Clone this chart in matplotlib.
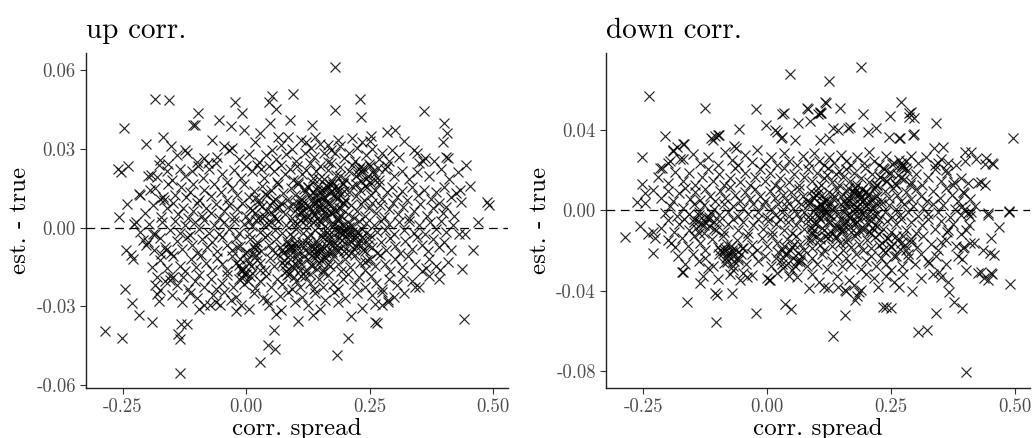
import matplotlib
matplotlib.use("Agg")
import matplotlib.pyplot as plt
import numpy as np

plt.rcParams["font.family"] = "serif"
plt.rcParams["font.serif"] = ["cmr10"]
plt.rcParams["axes.unicode_minus"] = False

# values: (corr. spread, est. - true)
up_outer = [(.179,.0613),(.095,.0507),(-.185,.049),(-.157,.0486),(.051,.050),(.046,.048),(-.024,.048),(.061,.045),(.230,.049),(.179,.0447),(.359,.0444),(-.098,.0437),(-.009,.0437),(.233,.042),(-.056,.041),(-.248,.038),(-.109,.039),(-.105,.0392),(-.032,.0386),(.047,.040),(.089,.041),(.132,.039),(.40,.040),(.407,.036),(.399,.0327),(.302,.037),(.284,.0365),(.253,.035),(.25,.033),(-.004,.037),(.027,.036),(-.203,.032),(-.169,.0346),(-.152,.031),(-.26,.0225),(-.254,.021),(-.239,.0235),(-.241,.009),(-.218,.0127),(-.258,.004),(-.228,.0013),(.445,.0238),(.453,.016),(.488,.0098),(.491,.0085),(.434,.0098),(.424,.013),(.47,.002),(.459,-.0086),(.443,-.0023),(.436,-.0156),(.441,-.0347),(.409,-.0131),(.392,-.0163),(.363,-.0153),(.341,-.0226),(.287,-.0275),(.264,-.0364),(.26,-.036),(.205,-.042),(.184,-.0487),(.186,-.0283),(.213,-.0337),(.135,-.0334),(.105,-.0356),(.027,-.0512),(.043,-.0446),(.059,-.0464),(.056,-.039),(.061,-.033),(.071,-.0315),(.005,-.031),(-.022,-.0318),(-.134,-.0553),(-.139,-.0404),(-.134,-.0426),(-.133,-.0366),(-.12,-.0366),(-.287,-.0395),(-.252,-.042),(-.218,-.0334),(-.191,-.036),(-.231,-.0286),(-.245,-.0235),(-.177,-.0281),(-.181,-.0252),(-.095,-.0309),(-.074,-.0296),(-.054,-.0296),(-.032,-.0275),(.034,-.027),(.041,-.0277),(.149,-.031),(.274,-.0296),(.287,-.0283),
            (-.223,.002),(-.203,-.0067),(-.209,-.0048),(-.243,-.0086),(-.233,-.0106),(-.23,-.0118),(-.186,.0149),(-.182,.0193),(-.193,.02),(-.176,.0257),(-.159,.0244),(-.169,.0117),(-.166,.0104),(-.189,-.0023),(-.191,-.015),(-.182,-.0188),(-.172,-.0099),(-.162,-.0086),(-.155,-.02),(-.149,-.0188),(-.186,-.022),(-.176,-.0239)]
up_core = [(-.14,.0275),(-.125,.0295),(-.12,.0285),(-.085,.0265),(-.078,.0245),(-.06,.027),(-.045,.031),(-.035,.0295),(-.03,.0305),(-.015,.026),(.005,.028),(.018,.0325),(.025,.025),(.04,.0275),(.052,.0295),(.06,.026),(.07,.0315),(.08,.028),(.092,.030),(.10,.0255),(.11,.0335),(.118,.0285),(.13,.0305),(.138,.027),(.15,.032),(.158,.0285),(.165,.025),(.172,.0295),(.18,.0285),(.19,.031),(.198,.0265),(.208,.0285),(.22,.0255),(.235,.0325),(.242,.0275),(.255,.030),(.268,.026),(.275,.0285),(.29,.0255),(.295,.0295),(.31,.027),(.32,.033),(.34,.0295),(.345,.0285),(.358,.0255),(.362,.0265),(.405,.027),(.408,.0265),(.38,.0255),(.215,.034),(.12,.0325),(.065,.0345),(.085,.0345),(-.07,.0335),(-.1,.025),(.14,.0345),(.165,.0315),(.185,.0335),(.225,.0305),
           (-.2,.0195),(-.178,.024),(-.16,.0215),(-.15,.018),(-.135,.0225),(-.125,.0195),(-.11,.0215),(-.098,.0235),(-.088,.019),(-.075,.0225),(-.062,.0245),(-.05,.0205),(-.04,.0175),(-.025,.022),(-.01,.019),(.0,.0235),(.012,.0215),(.022,.024),(.03,.0225),(.035,.019),(.045,.0235),(.055,.0215),(.062,.0175),(.07,.024),(.078,.0205),(.088,.0225),(.095,.018),(.102,.0235),(.112,.0205),(.12,.022),(.128,.0245),(.135,.019),(.142,.0215),(.15,.0235),(.158,.0185),(.165,.022),(.172,.0245),(.182,.02),(.19,.023),(.2,.0185),(.208,.0215),(.215,.024),(.222,.0195),(.228,.0225),(.235,.021),(.242,.0185),(.25,.0235),(.258,.0205),(.268,.018),(.28,.0225),(.285,.0235),(.3,.0195),(.315,.0215),(.33,.0185),(.345,.021),(.35,.0245),(.37,.0195),(.395,.0225),(.41,.0185),(.428,.021),
           (-.215,.0125),(-.195,.0145),(-.175,.011),(-.158,.0165),(-.145,.0125),(-.132,.0155),(-.122,.0115),(-.115,.0135),(-.108,.0165),(-.095,.0105),(-.085,.0145),(-.072,.012),(-.065,.0165),(-.052,.0135),(-.04,.0105),(-.03,.015),(-.018,.0125),(-.005,.0165),(.005,.0115),(.015,.014),(.025,.0105),(.032,.016),(.042,.0125),(.05,.0145),(.058,.011),(.065,.0165),(.075,.013),(.082,.0105),(.09,.015),(.098,.0125),(.105,.0165),(.11,.011),(.118,.0135),(.125,.0155),(.132,.0105),(.14,.0125),(.145,.016),(.152,.0135),(.158,.0115),(.165,.0155),(.17,.013),(.175,.0165),(.182,.0115),(.188,.014),(.195,.0165),(.2,.0105),(.208,.0135),(.215,.016),(.222,.012),(.23,.0145),(.238,.0105),(.245,.0155),(.252,.0125),(.26,.0145),(.268,.0165),(.275,.011),(.285,.0135),(.295,.0155),(.305,.0115),(.315,.014),(.325,.0105),(.335,.0155),(.348,.0125),(.36,.0145),(.375,.011),(.385,.0135),(.4,.0155),(.415,.0115),(.432,.0145),(.16,.0145),(.178,.0152),(.19,.0125),(.135,.0135),
           (-.205,.0055),(-.19,.0085),(-.172,.004),(-.16,.0075),(-.148,.0095),(-.138,.005),(-.128,.0075),(-.118,.0035),(-.108,.0065),(-.1,.0095),(-.09,.0045),(-.082,.0075),(-.072,.0055),(-.062,.009),(-.055,.0035),(-.045,.0065),(-.035,.0085),(-.025,.004),(-.018,.007),(-.008,.0095),(.0,.0045),(.008,.0075),(.018,.0055),(.025,.009),(.032,.0035),(.04,.0065),(.048,.0085),(.055,.0045),(.062,.0075),(.07,.0095),(.078,.005),(.085,.008),(.092,.0035),(.098,.0065),(.105,.0095),(.11,.0055),(.115,.0085),(.122,.004),(.128,.007),(.135,.0095),(.14,.005),(.148,.008),(.155,.0035),(.16,.0065),(.165,.0095),(.172,.0055),(.178,.008),(.185,.004),(.192,.0075),(.198,.0095),(.205,.005),(.212,.0085),(.218,.0035),(.225,.0065),(.232,.009),(.24,.0045),(.248,.0075),(.255,.0095),(.262,.0055),(.27,.0085),(.278,.004),(.288,.007),(.298,.0095),(.308,.005),(.318,.008),(.33,.0035),(.34,.0065),(.352,.009),(.365,.0045),(.378,.0075),(.39,.0095),(.398,.0055),(.405,.008),(.42,.0045),(.105,.0078),(.115,.0068),(.145,.0102),(.152,.0095),(.095,.0088),
           (-.215,-.0015),(-.198,.0015),(-.185,-.0025),(-.17,.002),(-.155,-.001),(-.145,.0025),(-.135,-.002),(-.125,.001),(-.115,-.0028),(-.105,.002),(-.095,-.0005),(-.085,.0028),(-.075,-.002),(-.065,.001),(-.055,-.0025),(-.045,.002),(-.035,-.0005),(-.025,.0025),(-.015,-.002),(-.005,.0015),(.005,-.0025),(.012,.0005),(.02,.0028),(.028,-.0015),(.035,.001),(.042,-.0028),(.05,.002),(.058,-.0008),(.065,.0025),(.072,-.002),(.08,.001),(.088,-.0025),(.095,.0018),(.1,-.0005),(.108,.0028),(.115,-.002),(.12,.0008),(.128,-.0025),(.135,.002),(.14,-.001),(.148,.0025),(.155,-.0018),(.16,.0005),(.168,-.0028),(.172,.0015),(.178,-.0005),(.185,.0025),(.19,-.002),(.195,.0008),(.2,-.0012),(.205,.002),(.21,-.0025),(.215,.0005),(.222,-.0015),(.228,.0025),(.235,-.0005),(.242,.0018),(.25,-.0028),(.258,.001),(.265,-.0018),(.272,.0025),(.28,-.0008),(.29,.0015),(.3,-.0025),(.31,.002),(.32,-.001),(.33,.0025),(.34,-.002),(.35,.001),(.362,-.0025),(.372,.002),(.385,-.0005),(.395,.0025),(.405,-.0018),(.418,.001),(.43,-.0025),(.202,-.0002),(.188,.0002),(.196,-.0008),(.208,.0004),
           (-.2,-.0055),(-.188,-.0085),(-.175,-.004),(-.165,-.0075),(-.152,-.0095),(-.14,-.005),(-.13,-.008),(-.12,-.0035),(-.11,-.0065),(-.1,-.0095),(-.09,-.0045),(-.08,-.0075),(-.07,-.0055),(-.06,-.009),(-.05,-.0035),(-.04,-.0065),(-.03,-.0085),(-.02,-.004),(-.012,-.007),(-.002,-.0095),(.008,-.0045),(.015,-.0075),(.022,-.0055),(.03,-.009),(.038,-.0035),(.045,-.0065),(.052,-.0085),(.06,-.0045),(.068,-.0075),(.075,-.0095),(.082,-.005),(.088,-.008),(.095,-.0035),(.1,-.0065),(.105,-.0095),(.112,-.0055),(.118,-.0085),(.125,-.004),(.13,-.007),(.138,-.0095),(.142,-.005),(.15,-.008),(.155,-.0035),(.162,-.0065),(.168,-.0095),(.175,-.0055),(.182,-.0085),(.188,-.004),(.195,-.007),(.202,-.0095),(.21,-.005),(.218,-.008),(.225,-.0035),(.232,-.0065),(.24,-.009),(.248,-.0045),(.255,-.0075),(.265,-.0095),(.272,-.0055),(.282,-.0085),(.292,-.004),(.302,-.007),(.312,-.0095),(.322,-.005),(.335,-.008),(.345,-.0035),(.355,-.0065),(.368,-.009),(.378,-.0045),(.39,-.0075),(.4,-.0055),(.415,-.0085),(.09,-.0072),(.085,-.0082),(.145,-.0068),(.14,-.0078),(.02,-.0065),
           (-.175,-.0125),(-.16,-.0155),(-.148,-.011),(-.135,-.0145),(-.125,-.0165),(-.112,-.012),(-.102,-.015),(-.092,-.0105),(-.082,-.0135),(-.07,-.016),(-.06,-.0115),(-.05,-.014),(-.04,-.0165),(-.03,-.011),(-.02,-.0135),(-.01,-.0158),(-.005,-.0175),(.002,-.012),(.01,-.0148),(.02,-.0105),(.028,-.0135),(.038,-.0162),(.048,-.0115),(.055,-.0145),(.065,-.0105),(.072,-.0135),(.08,-.0165),(.088,-.012),(.095,-.015),(.102,-.0108),(.11,-.0138),(.118,-.0165),(.125,-.0118),(.132,-.0148),(.14,-.0105),(.148,-.0135),(.155,-.0162),(.162,-.0115),(.17,-.0145),(.178,-.0108),(.185,-.0138),(.192,-.0165),(.2,-.012),(.21,-.015),(.22,-.0105),(.23,-.0135),(.24,-.0162),(.25,-.0118),(.26,-.0148),(.27,-.0105),(.28,-.0138),(.292,-.0165),(.302,-.012),(.315,-.015),(.328,-.0108),(.342,-.0138),(.355,-.0165),(.37,-.0118),(.385,-.0148),(.245,-.0125),(.24,-.0132),(-.008,-.0165),(.0,-.0178),
           (-.165,-.0205),(-.155,-.0185),(-.14,-.022),(-.128,-.019),(-.118,-.0235),(-.105,-.0205),(-.095,-.018),(-.085,-.0225),(-.072,-.0195),(-.062,-.0235),(-.05,-.021),(-.04,-.018),(-.028,-.0225),(-.015,-.0195),(-.005,-.0215),(.008,-.0185),(.018,-.023),(.028,-.0205),(.04,-.0185),(.05,-.0225),(.062,-.0195),(.072,-.0215),(.082,-.018),(.092,-.0235),(.1,-.0205),(.108,-.0225),(.118,-.0185),(.128,-.021),(.138,-.0235),(.148,-.0195),(.155,-.0225),(.165,-.018),(.175,-.0215),(.185,-.0235),(.195,-.0195),(.205,-.0175),(.218,-.0215),(.228,-.019),(.24,-.0225),(.252,-.0185),(.262,-.021),(.275,-.0235),(.29,-.0195),(.305,-.022),(.318,-.0185),(.335,-.0205),(.35,-.0225),(.37,-.0185),(.39,-.0195),
           (-.15,-.0255),(-.13,-.0285),(-.115,-.025),(-.1,-.027),(-.085,-.0295),(-.068,-.0255),(-.062,-.0285),(-.045,-.0245),(-.02,-.0265),(-.01,-.0295),(.015,-.025),(.045,-.0295),(.068,-.026),(.085,-.0245),(.098,-.0285),(.112,-.0265),(.125,-.0295),(.14,-.025),(.16,-.0275),(.178,-.0245),(.2,-.027),(.225,-.025),(.255,-.0255),(.275,-.0245),(.3,-.0265),(.32,-.025),(.26,-.029),(.235,-.0305)]
up_dense = [(.102,.0012),(.108,.0058),(.113,.0105),(.117,.0148),(.121,.0032),(.126,.0082),(.129,.0125),(.133,.0172),(.137,.0048),(.141,.0098),(.144,.0142),(.147,.0185),(.151,.0022),(.154,.0072),(.157,.0118),(.161,.0162),(.164,.0038),(.167,.0088),(.171,.0135),(.174,.0178),(.177,.0015),(.18,.0062),(.183,.0108),(.186,.0152),(.189,.0195),(.192,.0045),(.195,.0092),(.198,.0138),(.104,.0172),(.111,.0088),(.124,.0155),(.139,.0025),(.149,.0118),(.159,.0052),(.169,.0165),(.179,.0128),(.188,.0075),(.196,.0168),(.115,.0038),(.132,.0065),(.162,.0098),(.172,.0058),(.185,.0032),(.143,.0068),(.153,.0145),
            (.152,-.0032),(.158,-.0078),(.163,-.0015),(.168,-.0058),(.173,-.0092),(.178,-.0028),(.183,-.0068),(.188,-.0012),(.193,-.0048),(.198,-.0088),(.203,-.0025),(.208,-.0062),(.213,-.0098),(.218,-.0035),(.222,-.0072),(.227,-.0018),(.232,-.0052),(.237,-.0085),(.242,-.0022),(.247,-.0065),(.165,-.0045),(.185,-.0085),(.205,-.0042),(.225,-.0058),(.195,-.0022),(.215,-.0015),(.175,-.0065),(.235,-.0035),
            (.072,-.0085),(.076,-.0125),(.081,-.0165),(.085,-.0062),(.089,-.0105),(.093,-.0148),(.097,-.0188),(.101,-.0078),(.105,-.0122),(.109,-.0162),(.113,-.0068),(.117,-.0108),(.078,-.0142),(.092,-.0082),(.103,-.0142),(.087,-.0178),(.098,-.0058),(.111,-.0185),
            (-.018,-.0075),(-.012,-.0118),(-.006,-.0158),(.001,-.0092),(.006,-.0135),(.012,-.0172),(.017,-.0082),(.022,-.0125),(.027,-.0162),(-.009,-.0192),(.003,-.0205),(.014,-.0102),(-.015,-.0142),
            (.222,.0165),(.227,.0205),(.232,.0178),(.237,.0228),(.241,.0158),(.246,.0195),(.251,.0172),(.256,.0215),(.261,.0182),(.266,.0228),(.231,.0232),(.248,.0242),
            (.122,-.0058),(.127,-.0098),(.131,-.0142),(.135,-.0072),(.139,-.0115),(.143,-.0158),(.147,-.0082),(.151,-.0125),(.156,-.0168),(.161,-.0095),(.166,-.0138),(.128,-.0175),(.145,-.0102),(.158,-.0112),
            (.005,.0025),(.012,.0068),(.018,.0112),(.024,.0035),(.031,.0082),(.037,.0128),(.043,.0015),(.049,.0058),(.054,.0102),(.06,.0032),(.066,.0078),(.035,.0045)]

down_outer = [(.189,.0715),(.046,.068),(.125,.0644),(-.239,.0571),(-.125,.0513),(-.022,.0505),(.030,.0483),(.033,.0487),(.081,.0513),(.106,.049),(.109,.0485),(.116,.054),(.147,.051),(.193,.0483),(.247,.047),(.27,.054),(.29,.049),(.287,.0466),(.34,.0438),(.495,.0362),(.295,.0377),(.267,.036),(.245,.0367),(.22,.041),(.203,.039),(.167,.0417),(.132,.041),(.063,.0438),(-.003,.0428),(.020,.039),(.030,.0367),(-.056,.0405),(-.098,.0375),(-.114,.036),(-.11,.0353),(-.205,.0372),(-.252,.0267),(-.169,.033),(-.19,.0297),(-.213,.0212),(-.195,.0246),(-.066,.032),(-.063,.031),(-.253,.0134),(-.247,.0085),(-.262,.0043),(-.247,.0035),(-.231,.0101),(-.287,-.0131),(-.257,-.0076),(-.23,-.0214),(-.24,-.0115),(-.231,-.0108),(-.227,-.0138),(-.171,-.0305),(-.161,-.0458),(-.135,-.0363),(-.105,-.0413),(-.102,-.042),(-.103,-.0558),(-.071,-.0413),(-.022,-.051),(.003,-.0347),(.036,-.0466),(.049,-.0493),(.085,-.0385),(.115,-.038),(.122,-.0385),(.132,-.0629),(.157,-.0524),(.159,-.04),(.178,-.0446),(.182,-.0425),(.189,-.0397),(.223,-.038),(.233,-.048),(.239,-.048),(.249,-.0487),(.293,-.04),(.304,-.0607),(.322,-.0596),(.341,-.0513),(.367,-.0408),(.376,-.0458),(.393,-.0488),(.402,-.0808),(.49,-.0367),(.437,-.0339),(.446,-.0347),(.453,-.0317),(.402,-.0297),(.468,-.0083),(.488,-.0003),(.445,-.0023),(.432,.0143),(.439,.0126),(.422,.0256),(.44,.0234),(.456,.0234),(.399,.0292),(.412,.0292),(.118,.0535),(.107,.0488),(.103,.0483),(.083,.0508),(.087,.0448),(.142,.0404),(.164,.0414),(.266,.036),(.296,.038),(.286,.0488),(.296,.046),(.107,.035),(.124,.036),(-.19,.030),(-.182,.0315),(-.168,.033),(-.217,.021),(-.2,.0235),(-.176,.0255),(-.105,.037),(-.1,.0375),(.016,.040),(.028,.036),(.057,.035),(.337,.031),(.355,.0315),(.442,.026),(.454,.0235),(.426,.0135),(.344,.0235),(.361,.020),(.377,.014),(.397,.0086),(.391,.0017),(.411,-.0008),(.446,-.0013),(.487,-.0008),(-.193,-.0163),(-.17,-.0307),(-.12,-.0287),(-.089,-.0213),(-.069,-.0297),(-.049,-.0312),(-.041,-.0331),(.006,-.0347),(.067,-.0247),(.142,-.038),(.158,-.0397),(.266,-.038),(.365,-.0357),(.432,-.0307),(.452,-.0312),(.407,-.0073),(.452,-.0138),(.397,-.0183),(.418,-.0163),(.436,-.0198),(.45,-.0213),(.458,-.0223),(.351,-.0158),(.365,-.0098),(.326,-.0262),(.347,-.0307)]
down_core = [(-.17,.0255),(-.15,.028),(-.135,.0235),(-.12,.0265),(-.1,.0225),(-.085,.029),(-.07,.025),(-.058,.0225),(-.045,.0275),(-.03,.024),(-.02,.03),(-.005,.0235),(.008,.0265),(.02,.0225),(.035,.0285),(.045,.0245),(.06,.0225),(.072,.027),(.085,.0235),(.095,.0285),(.105,.0245),(.115,.0225),(.125,.0265),(.135,.0235),(.148,.0275),(.16,.0245),(.17,.0225),(.182,.0265),(.195,.0235),(.205,.029),(.215,.0245),(.225,.0225),(.24,.027),(.255,.0235),(.265,.025),(.272,.0225),(.28,.0245),(.29,.027),(.305,.0235),(.32,.0265),(.338,.0225),(.35,.0255),(.365,.0235),(.38,.0225),(.4,.0245),(.275,.0215),(.27,.0235),
             (-.22,.0165),(-.2,.0135),(-.185,.019),(-.17,.0145),(-.158,.0185),(-.145,.0125),(-.132,.0165),(-.12,.0205),(-.11,.0145),(-.098,.018),(-.088,.0125),(-.075,.016),(-.065,.021),(-.055,.014),(-.045,.0185),(-.035,.0125),(-.025,.0165),(-.015,.0205),(-.005,.0145),(.005,.0185),(.015,.0125),(.025,.016),(.035,.021),(.045,.014),(.055,.018),(.065,.0125),(.075,.0165),(.082,.0205),(.09,.0145),(.1,.0185),(.108,.0125),(.115,.016),(.122,.021),(.13,.014),(.138,.018),(.145,.0125),(.152,.0165),(.16,.0205),(.168,.0145),(.175,.0185),(.182,.0125),(.19,.016),(.198,.021),(.205,.014),(.212,.018),(.22,.0125),(.228,.0165),(.235,.0205),(.242,.0145),(.25,.0185),(.26,.0125),(.27,.016),(.28,.021),(.29,.014),(.3,.018),(.312,.0125),(.325,.0165),(.338,.0205),(.35,.0145),(.362,.0185),(.375,.0125),(.39,.016),(.405,.0135),(.12,.0175),(.145,.0195),
             (-.215,.006),(-.2,.0095),(-.19,.0045),(-.178,.0085),(-.165,.011),(-.155,.0055),(-.145,.009),(-.135,.005),(-.125,.0105),(-.115,.007),(-.105,.0045),(-.095,.0095),(-.085,.006),(-.075,.0115),(-.065,.0075),(-.055,.0045),(-.045,.009),(-.035,.0055),(-.025,.0105),(-.015,.007),(-.005,.0045),(.005,.0095),(.015,.006),(.025,.011),(.032,.0075),(.04,.0045),(.048,.009),(.056,.0055),(.064,.0105),(.072,.007),(.08,.0045),(.088,.0095),(.095,.006),(.102,.011),(.11,.0075),(.118,.0045),(.125,.009),(.132,.0055),(.14,.0105),(.148,.007),(.155,.0045),(.162,.0095),(.17,.006),(.178,.011),(.185,.0075),(.192,.0045),(.2,.009),(.208,.0055),(.215,.0105),(.222,.007),(.23,.0045),(.238,.0095),(.246,.006),(.254,.011),(.262,.0075),(.27,.0045),(.28,.009),(.29,.0055),(.3,.0105),(.31,.007),(.322,.0045),(.335,.0095),(.348,.006),(.36,.011),(.372,.0075),(.385,.0045),(.395,.009),(.41,.0055),(.185,.0088),(.175,.0092),(.19,.0068),(.098,.0078),
             (-.205,-.0015),(-.195,.002),(-.182,-.003),(-.17,.001),(-.158,-.002),(-.148,.003),(-.138,-.001),(-.128,.0025),(-.118,-.0035),(-.108,.0005),(-.098,-.0025),(-.088,.003),(-.078,-.001),(-.068,.002),(-.058,-.003),(-.048,.001),(-.038,-.002),(-.028,.003),(-.018,-.001),(-.008,.0025),(.0,-.0035),(.008,.0005),(.015,-.0025),(.022,.003),(.03,-.001),(.038,.002),(.045,-.003),(.052,.001),(.06,-.002),(.068,.003),(.075,-.001),(.082,.0025),(.09,-.0035),(.096,.0005),(.102,-.0025),(.108,.003),(.115,-.001),(.122,.002),(.128,-.003),(.135,.001),(.142,-.002),(.148,.003),(.155,-.001),(.162,.0025),(.168,-.0035),(.175,.0005),(.182,-.0025),(.188,.003),(.195,-.001),(.2,.002),(.208,-.003),(.215,.001),(.222,-.002),(.23,.003),(.238,-.001),(.245,.0025),(.252,-.0035),(.26,.0005),(.268,-.0025),(.276,.003),(.285,-.001),(.295,.002),(.305,-.003),(.315,.001),(.325,-.002),(.335,.003),(.345,-.001),(.355,.0025),(.368,-.0035),(.378,.0005),(.39,-.0025),(.4,.0005),(.405,-.0015),(.41,-.003),(.42,.002),(.112,.0012),(.118,-.0008),(.105,.0008),(.182,.0018),(.178,.0008),
             (-.215,-.0085),(-.2,-.005),(-.188,-.0105),(-.178,-.007),(-.168,-.0045),(-.158,-.0095),(-.148,-.006),(-.138,-.011),(-.128,-.0075),(-.118,-.0045),(-.108,-.009),(-.098,-.0055),(-.088,-.0105),(-.078,-.007),(-.068,-.0045),(-.058,-.0095),(-.048,-.006),(-.038,-.011),(-.028,-.0075),(-.018,-.0045),(-.008,-.009),(.002,-.0055),(.01,-.0105),(.018,-.007),(.026,-.0045),(.034,-.0095),(.042,-.006),(.05,-.011),(.058,-.0075),(.066,-.0045),(.074,-.009),(.082,-.0055),(.09,-.0105),(.098,-.007),(.106,-.0045),(.114,-.0095),(.122,-.006),(.13,-.011),(.138,-.0075),(.146,-.0045),(.154,-.009),(.162,-.0055),(.17,-.0105),(.178,-.007),(.186,-.0045),(.194,-.0095),(.202,-.006),(.21,-.011),(.218,-.0075),(.226,-.0045),(.234,-.009),(.242,-.0055),(.25,-.0105),(.26,-.007),(.27,-.0045),(.28,-.0095),(.29,-.006),(.3,-.011),(.312,-.0075),(.325,-.0045),(.338,-.009),(.35,-.0055),(.362,-.0105),(.375,-.007),(.39,-.0115),(.402,-.0095),(.145,-.0085),(.15,-.0095),(.155,-.0072),(.088,-.0088),(.095,-.0098),
             (-.2,-.0145),(-.185,-.018),(-.172,-.0135),(-.16,-.0175),(-.148,-.0125),(-.135,-.016),(-.125,-.0195),(-.112,-.014),(-.1,-.018),(-.09,-.0125),(-.08,-.0165),(-.07,-.0195),(-.06,-.0145),(-.05,-.0185),(-.04,-.013),(-.03,-.017),(-.02,-.0195),(-.01,-.0135),(.0,-.0175),(.01,-.0125),(.02,-.016),(.03,-.0195),(.04,-.014),(.05,-.018),(.058,-.0125),(.066,-.0165),(.074,-.0195),(.082,-.0145),(.09,-.0185),(.098,-.013),(.106,-.017),(.114,-.0195),(.122,-.0135),(.13,-.0175),(.138,-.0125),(.146,-.016),(.154,-.0195),(.162,-.014),(.17,-.018),(.178,-.0125),(.186,-.0165),(.194,-.0195),(.202,-.0145),(.21,-.0185),(.218,-.013),(.226,-.017),(.234,-.0195),(.242,-.0135),(.25,-.0175),(.26,-.0125),(.27,-.016),(.28,-.0195),(.29,-.014),(.302,-.018),(.315,-.0125),(.33,-.0165),(.345,-.0195),(.36,-.0145),(.38,-.0175),(.395,-.0185),(.41,-.016),(-.095,-.0195),(-.085,-.0185),(.16,-.0155),
             (-.18,-.0225),(-.165,-.0265),(-.15,-.0215),(-.138,-.025),(-.125,-.0235),(-.11,-.0275),(-.098,-.0215),(-.088,-.026),(-.078,-.0225),(-.068,-.0275),(-.058,-.0235),(-.042,-.0265),(-.03,-.0215),(-.018,-.025),(-.005,-.0225),(.008,-.0275),(.018,-.0235),(.03,-.0265),(.04,-.0215),(.05,-.0295),(.06,-.025),(.07,-.0225),(.08,-.0275),(.09,-.0235),(.1,-.0265),(.11,-.0215),(.12,-.029),(.13,-.025),(.14,-.0225),(.15,-.0275),(.16,-.0235),(.17,-.0265),(.18,-.0215),(.19,-.029),(.2,-.025),(.21,-.0225),(.22,-.0275),(.23,-.0235),(.24,-.0265),(.25,-.0295),(.26,-.0225),(.272,-.0275),(.285,-.0235),(.298,-.0265),(.31,-.0215),(.325,-.025),(.34,-.0225),(.36,-.0265),(.385,-.0225),(.392,-.024),
             (-.13,-.0325),(-.1,-.034),(-.075,-.0315),(-.055,-.0345),(-.03,-.032),(.0,-.0335),(.02,-.031),(.045,-.0325),(.06,-.033),(.09,-.0315),(.105,-.0355),(.14,-.0325),(.165,-.0345),(.175,-.037),(.2,-.0315),(.215,-.0335),(.24,-.0325),(.255,-.0355),(.275,-.0315),(.31,-.0335),(.335,-.0315),(.35,-.033),(.425,-.031),(.185,-.0405)]
down_dense = [(.151,-.0105),(.155,-.0052),(.158,.0008),(.161,.0062),(.164,.0112),(.167,-.0082),(.17,-.0028),(.173,.0032),(.176,.0088),(.179,-.0112),(.182,-.0058),(.185,.0005),(.188,.0058),(.191,.0105),(.194,-.0085),(.197,-.0032),(.2,.0025),(.203,.0078),(.206,-.0108),(.209,-.0055),(.212,.0012),(.215,.0065),(.218,.0115),(.221,-.0078),(.157,.0035),(.166,.0048),(.174,-.0055),(.183,.0082),(.192,-.0015),(.199,.0095),(.207,.0042),(.216,-.0025),(.162,-.0022),(.178,.0112),(.186,-.0095),(.196,.0052),(.211,-.0088),(.219,.0035),
              (.082,-.0035),(.086,.0042),(.09,-.0118),(.094,-.0062),(.098,.0015),(.102,.0085),(.106,-.0142),(.11,-.0088),(.114,-.0025),(.118,.0052),(.122,-.0115),(.126,-.0058),(.13,.0008),(.134,.0072),(.138,-.0135),(.092,.0068),(.104,-.0035),(.116,-.0128),(.128,.0038),(.136,-.0085),(.088,-.0145),(.108,.0025),(.124,-.0022),(.112,.0048),
              (-.148,-.0045),(-.143,-.0088),(-.138,-.0025),(-.133,-.0068),(-.128,-.0112),(-.123,-.0035),(-.118,-.0078),(-.113,-.0015),(-.108,-.0058),(-.103,-.0098),(-.14,-.0052),(-.125,-.0058),
              (-.088,-.0195),(-.083,-.0235),(-.078,-.0212),(-.073,-.0178),(-.068,-.0225),(-.063,-.0198),(-.058,-.0245),(-.053,-.0215),(-.048,-.0185),(-.081,-.0255),(-.066,-.0252),(-.071,-.0205),
              (.022,-.0205),(.027,-.0248),(.032,-.0285),(.037,-.0218),(.042,-.0262),(.047,-.0195),(.052,-.0238),(.057,-.0278),(.062,-.0212),(.067,-.0255),(.035,-.0175),(.055,-.0168),
              (.222,.0125),(.228,.0168),(.234,.0212),(.24,.0145),(.246,.0188),(.252,.0232),(.258,.0135),(.264,.0178),(.27,.0218),(.276,.0155),(.282,.0198),(.288,.0125),
              (.225,-.0118),(.231,-.0162),(.237,-.0205),(.243,-.0138),(.249,-.0182),(.255,-.0225),(.261,-.0148),(.267,-.0192),(.273,-.0128),(.279,-.0172),(.285,-.0215),(.291,-.0158)]

x_ticks = [-0.25, 0.0, 0.25, 0.5]
x_ticklabels = ["-0.25", "0.00", "0.25", "0.50"]
up_yticks = [-0.06, -0.03, 0.0, 0.03, 0.06]
up_yticklabels = ["-0.06", "-0.03", "0.00", "0.03", "0.06"]
down_yticks = [-0.08, -0.04, 0.0, 0.04]
down_yticklabels = ["-0.08", "-0.04", "0.00", "0.04"]

panels = [
    ("up corr.", up_outer + up_core + up_dense, up_yticks, up_yticklabels, (-0.0611, 0.0665), [0.0833, 0.1142, 0.4089, 0.7648]),
    ("down corr.", down_outer + down_core + down_dense, down_yticks, down_yticklabels, (-0.0886, 0.0786), [0.5872, 0.1142, 0.4108, 0.7648]),
]

fig = plt.figure(figsize=(10.32, 4.38), dpi=100)
for title, pts, yt, ytl, ylim, rect in panels:
    ax = fig.add_axes(rect)
    xs = np.array([p[0] for p in pts])
    ys = np.array([p[1] for p in pts])
    ax.axhline(0, color="black", lw=0.9, ls=(0, (7, 4.5)), zorder=1)
    ax.scatter(xs, ys, marker="x", s=52, lw=0.85, color="black", alpha=0.85, zorder=2)
    ax.set_xlim(-0.325, 0.53)
    ax.set_ylim(*ylim)
    ax.set_xticks(x_ticks)
    ax.set_xticklabels(x_ticklabels)
    ax.set_yticks(yt)
    ax.set_yticklabels(ytl)
    for s in ["top", "right"]:
        ax.spines[s].set_visible(False)
    for s in ["left", "bottom"]:
        ax.spines[s].set_linewidth(1.0)
        ax.spines[s].set_color("#222222")
    ax.tick_params(length=4.3, width=0.8, color="#333333", labelcolor="#4d4d4d",
                   labelsize=13.5, pad=3)
    ax.set_xlabel("corr. spread", fontsize=18, labelpad=1)
    ax.set_ylabel("est. - true", fontsize=18, labelpad=4)
    ax.set_title(title, loc="left", fontsize=21, pad=11)

fig.savefig("out.png", dpi=100)
